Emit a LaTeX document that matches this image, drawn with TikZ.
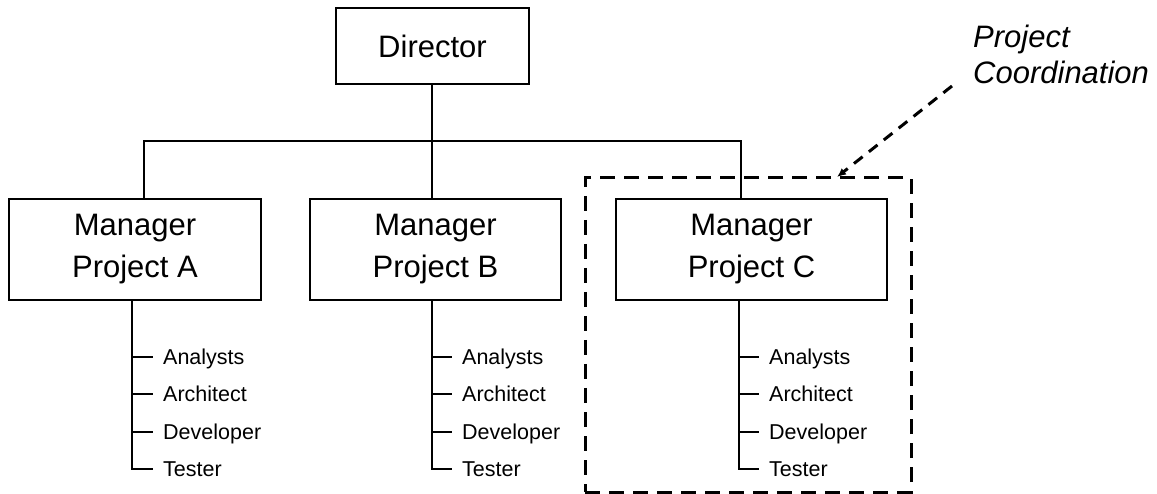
\documentclass[tikz,border=0pt]{standalone}
\usepackage{fontspec}
\setmainfont{Liberation Sans}
\usetikzlibrary{arrows.meta}
\tikzset{
  box/.style={draw, line width=1.4pt, inner sep=0pt, align=center,
    font=\fontsize{31}{42}\selectfont},
  lbl/.style={anchor=west, inner sep=0pt, text height=15pt, text depth=0pt,
    font=\fontsize{21.5}{26}\selectfont},
  conn/.style={line width=1.4pt},
  grpbox/.style={draw, line width=3pt, dash pattern=on 15pt off 9pt, inner sep=0pt},
  ptr/.style={line width=3pt, dash pattern=on 11pt off 8pt,
    -{Latex[length=9pt,width=8pt]}},
  note/.style={anchor=north west, inner sep=0pt, align=left,
    font=\fontsize{31}{36}\selectfont\itshape}
}
\begin{document}
\begin{tikzpicture}[x=1pt,y=-1pt]
\useasboundingbox (0,0) rectangle (1157,494);

% boxes
\node[box, minimum width=193pt, minimum height=76pt] (D) at (432.5,46) {Director};
\node[box, minimum width=252pt, minimum height=101pt] (MA) at (135,249.5) {Manager\\Project A};
\node[box, minimum width=251pt, minimum height=101pt] (MB) at (435.5,249.5) {Manager\\Project B};
\node[box, minimum width=271pt, minimum height=101pt] (MC) at (751.5,249.5) {Manager\\Project C};

% group
\node[grpbox, minimum width=326pt, minimum height=314pt] (grp) at (748,335) {};
\node[note] (pc) at (973,25) {Project\\Coordination};
\coordinate (arrS) at (952,86);
\coordinate (arrE) at (837,177);
\draw[ptr] (arrS) -- (arrE);

% top connectors
\coordinate (bus) at (432,141);
\coordinate (topA) at (144,199);
\coordinate (topC) at (741,199);
\draw[conn] (D.south -| bus) -- (bus |- MB.north);
\draw[conn] (topA) |- (bus) -| (topC);

% sub lists
\foreach \m/\sx/\lx in {A/132/163, B/432/462, C/739/769}{
  \node[lbl] (\m1) at (\lx,357) {Analysts};
  \node[lbl] (\m2) at (\lx,394) {Architect};
  \node[lbl] (\m3) at (\lx,432) {Developer};
  \node[lbl] (\m4) at (\lx,469) {Tester};
  \coordinate (s\m) at (\sx,300);
  \draw[conn] (s\m) |- ([xshift=-10pt]\m4.west);
  \draw[conn] (s\m |- \m1.west) -- ([xshift=-10pt]\m1.west);
  \draw[conn] (s\m |- \m2.west) -- ([xshift=-10pt]\m2.west);
  \draw[conn] (s\m |- \m3.west) -- ([xshift=-10pt]\m3.west);
}
\end{tikzpicture}
\end{document}
